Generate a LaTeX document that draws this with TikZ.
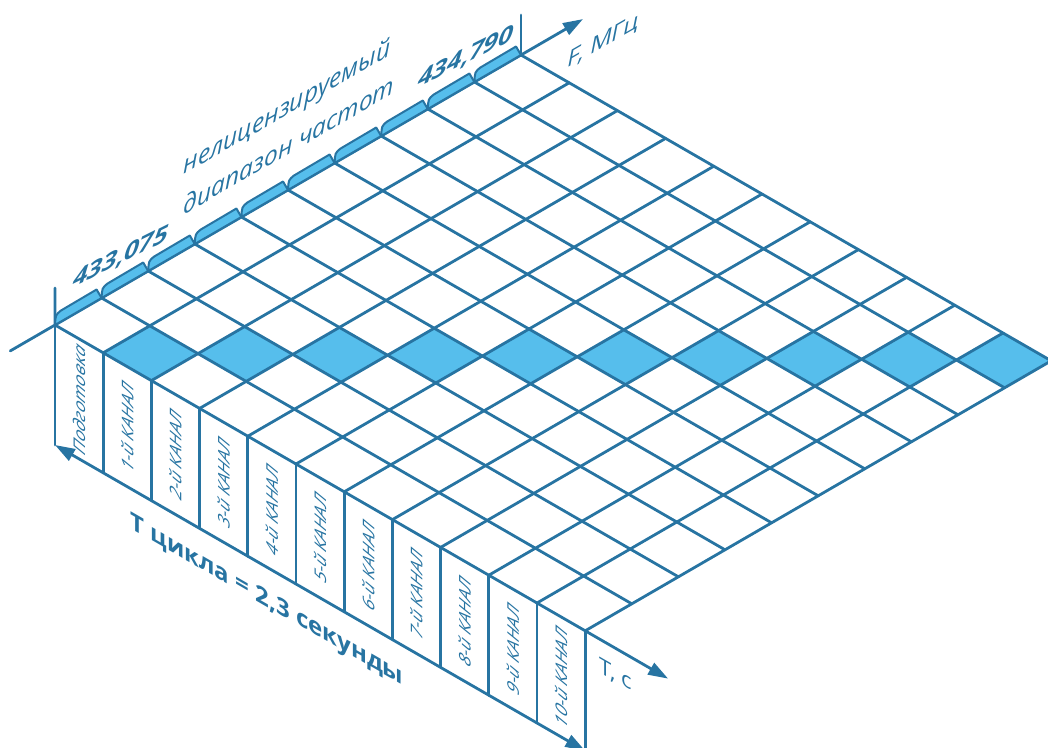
\documentclass[tikz,border=0pt]{standalone}
\usepackage{fontspec}
\setmainfont{Open Sans}
\usetikzlibrary{arrows.meta,calc}
\definecolor{gridblue}{HTML}{2774A2}
\definecolor{cellblue}{HTML}{56BEEC}
\tikzset{
  gridline/.style={draw=gridblue, line width=2.8pt, line cap=round},
  axisarrow/.style={gridline, -{Triangle[length=20pt,width=13pt]}},
  tab/.style={fill=cellblue, draw=gridblue, line width=2pt, line join=round},
  numlabel/.style={text=gridblue, inner sep=0pt, cm={1,0.5,0.3,1,(0,0)},
    font=\fontsize{25.5}{25.5}\selectfont\bfseries},
  uplabel/.style={text=gridblue, inner sep=0pt, yslant=0.577},
  downlabel/.style={text=gridblue, inner sep=0pt, yslant=-0.577},
  panellabel/.style={text=gridblue, inner sep=0pt, cm={0,1,-0.866,0.5,(0,0)},
    font=\fontsize{18.5}{18.5}\selectfont\itshape},
}
\begin{document}
\begin{tikzpicture}[x=1pt,y=1pt]
  \useasboundingbox (0,0) rectangle (1048,-747);
  \begin{scope}[cm={48.2,-27.8,46.6,27,(55,-325)}]
    \foreach \k in {1,...,10} \fill[cellblue] (\k,\k-1) -- (\k+1,\k-1) -- (\k+1,\k) -- (\k,\k) -- cycle;
    \foreach \t in {0,...,11} \draw[gridline] (\t,0) -- (\t,10);
    \foreach \f in {0,...,10} \draw[gridline] (0,\f) -- (11,\f);
    \foreach \f in {0,...,10} \coordinate (b\f) at (0,\f);
    \foreach \t in {0,...,11} \coordinate (w\t) at (\t,0);
    \foreach \t in {0,...,10} \coordinate (m\t) at (\t+0.5,0);
    \coordinate (back) at (0,-0.96); \coordinate (fend) at (0,11.33); \coordinate (tend) at (12.72,0);
  \end{scope}
  % wall below the time edge
  \foreach \t in {0,...,11} \draw[gridline] (w\t) -- ++(0,-120);
  \draw[gridline, {Triangle[length=20pt,width=13pt]}-{Triangle[length=20pt,width=13pt]}] ($(w0)+(0,-120)$) -- ($(w11)+(0,-120)$);
  \draw[gridline] (back) -- (b0) -- ++(0,37); \draw[gridline] (b10) -- ++(0,40);
  \draw[axisarrow] (b10) -- (fend); \draw[axisarrow] (w11) -- (tend);
  % tabs on the frequency edge
  \foreach \f [evaluate=\f as \g using int(\f+1)] in {0,...,9}
    \draw[tab] (b\f) .. controls ($(b\f)+(0.5,10)$) .. ($(b\f)+(6,14.5)$) -- ($(b\g)+(-5,8.5)$) -- (b\g) -- cycle;
  \node[numlabel] (flow) at (121,-257) {433,075};
  \node[numlabel] (fhigh) at (466,-57) {434,790};
  \node[uplabel, font=\fontsize{24.5}{24.5}\selectfont\itshape] (band1) at (287,-109) {нелицензируемый};
  \node[uplabel, font=\fontsize{24.5}{24.5}\selectfont\itshape] (band2) at (289,-145) {диапазон частот};
  \node[text=gridblue, inner sep=0pt, cm={1,0.577,0.2,1,(0,0)}, font=\fontsize{24}{24}\selectfont] (flabel) at (603,-42) {F, МГц};
  \node[downlabel, font=\fontsize{22}{22}\selectfont] (tlabel) at (616,-675) {Т, с};
  \node[downlabel, font=\fontsize{24}{24}\selectfont\bfseries] (cycle) at (267,-601) {Т цикла = 2,3 секунды};
  \node[panellabel] (p0) at ($(m0)+(0,-60)$) {Подготовка};
  \foreach \t in {1,...,10} \node[panellabel] (p\t) at ($(m\t)+(0,-60)$) {\t-й КАНАЛ};
\end{tikzpicture}
\end{document}
